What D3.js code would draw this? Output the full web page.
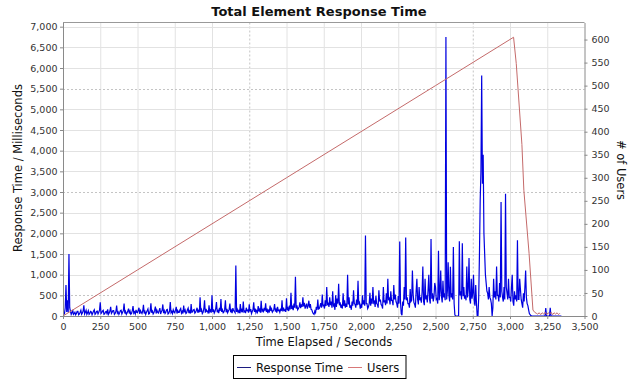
<!DOCTYPE html>
<html><head><meta charset="utf-8">
<script src="https://cdn.jsdelivr.net/npm/d3@7"></script>
<style>
html,body{margin:0;padding:0;background:#fff;}
svg{display:block;font-family:"DejaVu Sans",sans-serif;}
</style></head><body>
<svg id="chart" width="640" height="380"></svg>
<script>
const chartTitle = "Total Element Response Time";
const xAxisTitle = "Time Elapsed / Seconds";
const leftAxisTitle = "Response Time / Milliseconds";
const rightAxisTitle = "# of Users";
const seriesNames = ["Response Time", "Users"];

const xTicks = [0,250,500,750,1000,1250,1500,1750,2000,2250,2500,2750,3000,3250,3500];
const leftTicks = [0,500,1000,1500,2000,2500,3000,3500,4000,4500,5000,5500,6000,6500,7000];
const rightTicks = [0,50,100,150,200,250,300,350,400,450,500,550,600];

// response time sampled every 5 s, starting at 0 s (one row = 100 s)
const sampleInterval = 5;
const responseTimes = [
  0, 30, 60, 200, 750, 100, 380, 90, 1500, 200, 120, 40, 80, 150, 40, 60, 90, 30, 60, 110,
  110, 30, 50, 90, 140, 40, 70, 120, 260, 50, 90, 140, 40, 80, 130, 40, 60, 110, 100, 30,
  70, 120, 150, 40, 60, 110, 120, 50, 90, 140, 330, 60, 80, 120, 140, 40, 50, 100, 110, 60,
  160, 40, 70, 120, 220, 60, 90, 130, 130, 40, 60, 110, 250, 70, 100, 40, 80, 130, 140, 50,
  90, 130, 300, 60, 110, 40, 70, 120, 180, 60, 120, 40, 60, 130, 240, 70, 100, 50, 150, 90,
  80, 140, 200, 50, 130, 90, 60, 120, 270, 60, 110, 40, 90, 130, 170, 50, 60, 120, 310, 80,
  120, 50, 80, 140, 230, 60, 140, 90, 70, 130, 190, 50, 100, 140, 280, 70, 130, 60, 90, 150,
  160, 50, 70, 120, 340, 80, 110, 60, 150, 100, 80, 140, 220, 60, 130, 90, 90, 150, 180, 70,
  110, 60, 250, 90, 140, 60, 80, 150, 190, 70, 120, 60, 290, 90, 100, 150, 160, 70, 90, 140,
  200, 80, 130, 90, 450, 100, 150, 60, 90, 170, 380, 80, 170, 110, 120, 60, 260, 100, 140, 80,
  500, 100, 160, 70, 110, 180, 340, 90, 130, 70, 200, 120, 410, 100, 150, 80, 100, 160, 380, 90,
  170, 80, 120, 160, 300, 90, 140, 70, 190, 130, 110, 80, 1220, 100, 160, 90, 130, 70, 290, 110,
  150, 90, 350, 100, 120, 70, 200, 130, 140, 80, 280, 110, 170, 60, 110, 150, 330, 100, 180, 80,
  130, 90, 240, 110, 160, 80, 370, 120, 150, 90, 200, 130, 310, 100, 180, 70, 140, 110, 250, 120,
  170, 90, 120, 160, 290, 110, 160, 80, 220, 130, 140, 90, 180, 120, 380, 110, 200, 130, 150, 100,
  430, 140, 190, 120, 250, 160, 560, 170, 220, 140, 300, 200, 950, 180, 260, 150, 180, 220, 330, 190,
  280, 220, 450, 230, 320, 180, 240, 300, 180, 250, 370, 200, 290, 160, 150, 90, 60, 40, 120, 80,
  220, 150, 400, 170, 180, 240, 310, 200, 520, 250, 260, 180, 380, 240, 700, 280, 300, 220, 450, 260,
  350, 200, 600, 250, 280, 150, 500, 220, 420, 300, 780, 260, 330, 200, 250, 180, 550, 240, 380, 200,
  300, 220, 1000, 280, 450, 200, 260, 150, 350, 250, 620, 300, 280, 200, 400, 260, 850, 280, 320, 180,
  260, 200, 500, 280, 380, 250, 1950, 300, 300, 180, 220, 300, 560, 250, 420, 300, 700, 320, 350, 220,
  480, 300, 280, 200, 620, 350, 400, 280, 250, 180, 700, 330, 380, 260, 550, 300, 900, 380, 420, 280,
  600, 380, 380, 260, 750, 400, 520, 350, 300, 200, 480, 300, 1800, 350, 60, 20, 350, 250, 700, 400,
  1900, 380, 450, 300, 300, 200, 650, 350, 380, 1100, 520, 330, 280, 200, 600, 900, 400, 280, 700, 380,
  450, 320, 580, 1200, 350, 260, 900, 400, 500, 330, 620, 1000, 400, 300, 1860, 420, 550, 350, 480, 800,
  700, 400, 420, 300, 1580, 380, 600, 1100, 480, 330, 850, 450, 550, 380, 6750, 400, 620, 1300, 500, 350,
  1190, 450, 550, 400, 1670, 300, 30, 0, 0, 0, 0, 0, 1810, 500, 600, 400, 1760, 480, 700, 420,
  500, 380, 1200, 450, 650, 1400, 400, 300, 900, 420, 550, 1000, 350, 250, 750, 300, 0, 0, 450, 1500,
  2800, 3500, 5820, 3200, 3900, 2000, 1500, 1000, 800, 600, 550, 400, 700, 450, 400, 300, 0, 200, 900, 450,
  600, 400, 1200, 500, 500, 350, 800, 450, 2760, 600, 450, 350, 700, 400, 2960, 700, 550, 400, 900, 450,
  450, 350, 700, 1000, 350, 250, 600, 400, 500, 350, 1835, 400, 400, 900, 650, 400, 300, 200, 550, 350,
  700, 1100, 450, 300, 250, 150, 60, 30, 10, 0, 0, 0, 0, 0, 0, 0, 0, 0, 0, 0,
  0, 0, 0, 0, 0, 0, 0, 0, 190, 0, 0, 0, 0, 0, 200, 0, 0, 0, 0, 0,
  0, 0, 0, 0, 0, 0, 0, 0, 0, 0
];

const userTimes = [0, 500, 1000, 1500, 2000, 2500, 3024, 3042, 3080, 3093, 3128, 3154,
  3166, 3176, 3186, 3196, 3206, 3216, 3226, 3236, 3246, 3256, 3266, 3276, 3286, 3296, 3306, 3316, 3326, 3335];
const userCounts = [0, 100, 200, 300, 400, 500, 605, 548, 372, 273, 136, 13,
  8, 6, 4, 7, 3, 7, 4, 8, 3, 7, 4, 8, 3, 7, 4, 7, 3, 6];

const dashedXGrid = [1250, 2750];
const dashedYGrid = [500, 3000, 5500];

const svg = d3.select("#chart");
const L = 63, R = 584.5, T = 22.5, B = 316;

const x = d3.scaleLinear().domain([0, 3500]).range([L, R]);
const yL = d3.scaleLinear().domain([0, 7101]).range([B, T]);
const yR = d3.scaleLinear().domain([0, 637]).range([B, T]);

svg.append("rect").attr("width", 640).attr("height", 380).attr("fill", "#fff");

// grid
const grid = svg.append("g");
grid.selectAll("line.vx").data(xTicks.filter(d => d > 0 && d < 3500)).enter().append("line")
  .attr("x1", d => x(d) + 0.5).attr("x2", d => x(d) + 0.5).attr("y1", T).attr("y2", B)
  .attr("stroke", d => dashedXGrid.includes(d) ? "#c4c4c4" : "#e2e2e2")
  .attr("stroke-dasharray", d => dashedXGrid.includes(d) ? "2,2" : null)
  .attr("stroke-width", 1);
grid.selectAll("line.hy").data(leftTicks.filter(d => d > 0)).enter().append("line")
  .attr("y1", d => Math.round(yL(d)) + 0.5).attr("y2", d => Math.round(yL(d)) + 0.5).attr("x1", L).attr("x2", R)
  .attr("stroke", d => dashedYGrid.includes(d) ? "#c4c4c4" : "#e2e2e2")
  .attr("stroke-dasharray", d => dashedYGrid.includes(d) ? "2,2" : null)
  .attr("stroke-width", 1);

// plot outline top
svg.append("line").attr("x1", L).attr("x2", R).attr("y1", T).attr("y2", T).attr("stroke", "#999");

svg.append("clipPath").attr("id", "clip").append("rect")
  .attr("x", L).attr("y", T).attr("width", R - L).attr("height", B - T);

const plot = svg.append("g").attr("clip-path", "url(#clip)");

const respData = responseTimes.map((v, i) => [i * sampleInterval, v]);
plot.append("path").datum(respData)
  .attr("fill", "none").attr("stroke", "#0000e0").attr("stroke-width", 1.2)
  .attr("stroke-linejoin", "miter")
  .attr("d", d3.line().x(d => x(d[0])).y(d => yL(d[1])));

const userData = userTimes.map((t, i) => [t, userCounts[i]]);
plot.append("path").datum(userData)
  .attr("fill", "none").attr("stroke", "#c46a6a").attr("stroke-width", 1)
  .attr("d", d3.line().x(d => x(d[0])).y(d => yR(d[1])));

// axes
function styleAxis(g) {
  g.selectAll(".domain").attr("stroke", "#8a8a8a");
  g.selectAll(".tick line").attr("stroke", "#8a8a8a");
  g.selectAll("text").attr("fill", "#333").attr("font-size", "9.5px").attr("font-family", "DejaVu Sans, sans-serif");
}
const fmt = d3.format(",");
svg.append("g").attr("transform", `translate(0,${B})`)
  .call(d3.axisBottom(x).tickValues(xTicks).tickFormat(fmt).tickSize(3).tickSizeOuter(0).tickPadding(4.5))
  .call(styleAxis);
svg.append("g").attr("transform", `translate(${L},0)`)
  .call(d3.axisLeft(yL).tickValues(leftTicks).tickFormat(fmt).tickSize(3).tickSizeOuter(0).tickPadding(2.5))
  .call(styleAxis);
svg.append("g").attr("transform", `translate(${R},0)`)
  .call(d3.axisRight(yR).tickValues(rightTicks).tickFormat(fmt).tickSize(3).tickSizeOuter(0).tickPadding(4))
  .call(styleAxis);

// titles
svg.append("text").attr("x", 319).attr("y", 16).attr("text-anchor", "middle")
  .attr("font-size", "13px").attr("font-weight", "bold").attr("fill", "#111").text(chartTitle);
svg.append("text").attr("x", 324).attr("y", 346).attr("text-anchor", "middle")
  .attr("font-size", "11.5px").attr("fill", "#111").text(xAxisTitle);
svg.append("text").attr("transform", "translate(21.5,168) rotate(-90)").attr("text-anchor", "middle")
  .attr("font-size", "11.5px").attr("fill", "#111").text(leftAxisTitle);
svg.append("text").attr("transform", "translate(617,170) rotate(90)").attr("text-anchor", "middle")
  .attr("font-size", "11.5px").attr("fill", "#111").text(rightAxisTitle);

// legend
const lg = svg.append("g");
lg.append("rect").attr("x", 233.5).attr("y", 355.5).attr("width", 172.5).attr("height", 23)
  .attr("fill", "#fff").attr("stroke", "#000").attr("stroke-width", 1);
const legendColors = ["#1c1c80", "#d87878"];
const legendX = [237, 348];
seriesNames.forEach((name, i) => {
  lg.append("line").attr("x1", legendX[i]).attr("x2", legendX[i] + 14).attr("y1", 367.5).attr("y2", 367.5)
    .attr("stroke", legendColors[i]).attr("stroke-width", 1);
  lg.append("text").attr("x", legendX[i] + 19).attr("y", 371.5).attr("font-size", "11.5px")
    .attr("fill", "#111").text(name);
});
</script>
</body></html>
